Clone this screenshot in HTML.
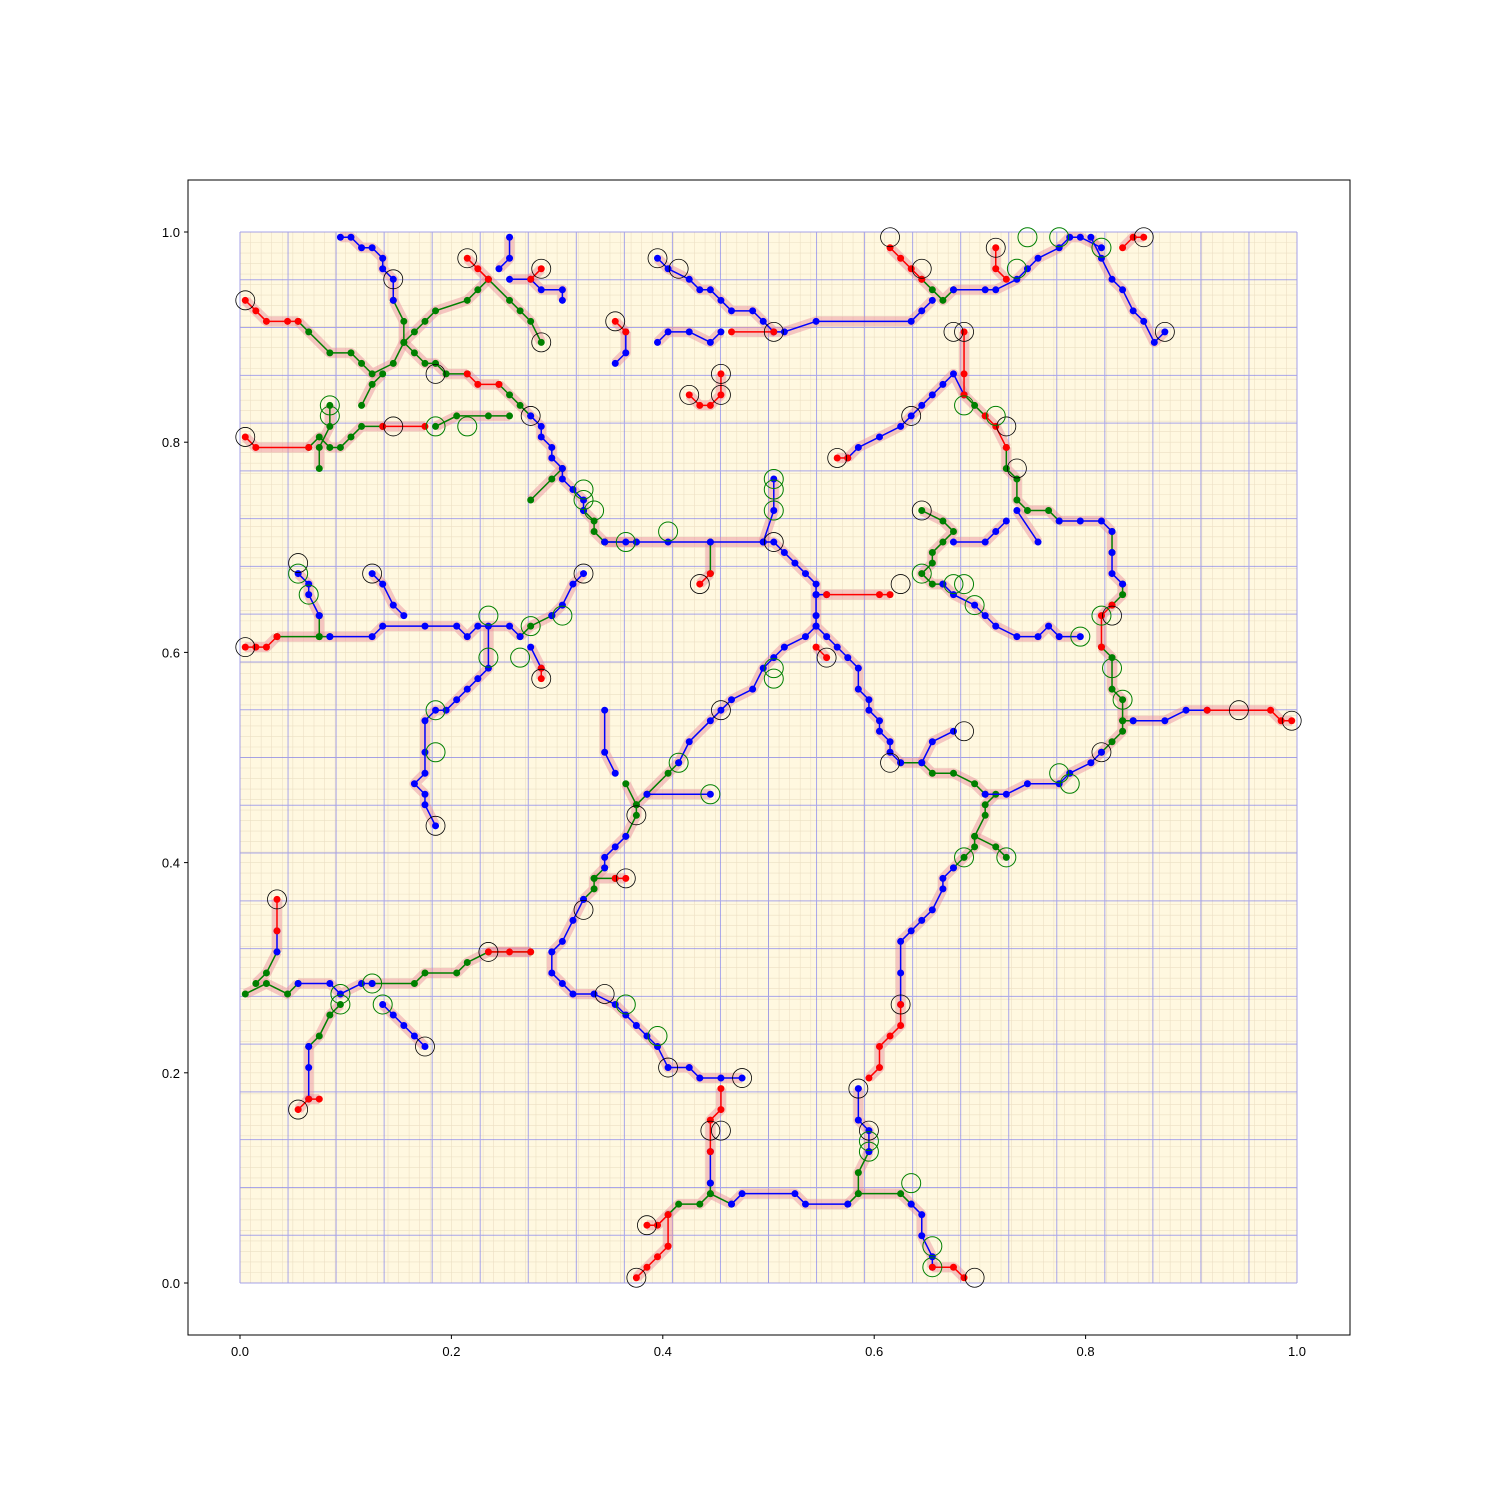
<!DOCTYPE html>
<html><head><meta charset="utf-8"><style>
body{margin:0;background:#fff;}
svg text{font-family:"Liberation Sans",sans-serif;font-size:13px;fill:#000;}
</style></head><body>
<svg id="chart" width="1500" height="1500" viewBox="0 0 1500 1500" xmlns="http://www.w3.org/2000/svg">
<rect x="0" y="0" width="1500" height="1500" fill="#fff"/>
<g id="plot"></g>
</svg>
<script>
const xTicks=[0,0.2,0.4,0.6,0.8,1.0];
const yTicks=[0,0.2,0.4,0.6,0.8,1.0];
const tickLabels=["0.0","0.2","0.4","0.6","0.8","1.0"];
const coarseDivisions=22;
const fineDivisions=100;
const redPaths=[
[[0.005,0.935],[0.015,0.925],[0.025,0.915],[0.045,0.915],[0.055,0.915]],
[[0.005,0.605],[0.015,0.605],[0.025,0.605],[0.035,0.615]],
[[0.005,0.805],[0.015,0.795],[0.065,0.795]],
[[0.915,0.545],[0.975,0.545],[0.985,0.535],[0.995,0.535]],
[[0.555,0.655],[0.605,0.655],[0.615,0.655]],
[[0.615,0.985],[0.625,0.975],[0.635,0.965],[0.645,0.955]],
[[0.835,0.985],[0.845,0.995],[0.855,0.995]],
[[0.385,0.055],[0.395,0.055],[0.405,0.065],[0.405,0.035]],
[[0.375,0.005],[0.385,0.015],[0.395,0.025],[0.405,0.035]],
[[0.655,0.015],[0.675,0.015],[0.685,0.005]],
[[0.455,0.185],[0.455,0.165],[0.445,0.155],[0.445,0.125]],
[[0.595,0.195],[0.605,0.205],[0.605,0.225],[0.615,0.235],[0.625,0.245],[0.625,0.265]],
[[0.685,0.905],[0.685,0.865],[0.685,0.845]],
[[0.725,0.795],[0.715,0.815],[0.705,0.825]],
[[0.215,0.865],[0.225,0.855],[0.245,0.855]],
[[0.135,0.815],[0.175,0.815]],
[[0.235,0.315],[0.255,0.315],[0.275,0.315]],
[[0.815,0.605],[0.815,0.635],[0.825,0.645]],
[[0.035,0.365],[0.035,0.335]],
[[0.055,0.165],[0.065,0.175],[0.075,0.175]],
[[0.465,0.905],[0.505,0.905]],
[[0.425,0.845],[0.435,0.835],[0.445,0.835],[0.455,0.845],[0.455,0.865]],
[[0.215,0.975],[0.225,0.965],[0.235,0.955]],
[[0.355,0.915],[0.365,0.905]],
[[0.715,0.985],[0.715,0.965],[0.725,0.955]],
[[0.435,0.665],[0.445,0.675]],
[[0.555,0.595],[0.545,0.605]],
[[0.365,0.385],[0.355,0.385]],
[[0.285,0.965],[0.275,0.955]],
[[0.285,0.575],[0.285,0.585]],
[[0.565,0.785],[0.575,0.785]]
];
const bluePaths=[
[[0.095,0.995],[0.105,0.995],[0.115,0.985],[0.125,0.985],[0.135,0.975],[0.135,0.965],[0.145,0.955],[0.145,0.935]],
[[0.275,0.825],[0.285,0.815],[0.285,0.805],[0.295,0.795],[0.295,0.785],[0.305,0.775],[0.305,0.765],[0.315,0.755],[0.325,0.745],[0.325,0.735]],
[[0.345,0.705],[0.365,0.705],[0.375,0.705],[0.405,0.705],[0.445,0.705],[0.495,0.705],[0.505,0.705],[0.515,0.695],[0.525,0.685],[0.535,0.675],[0.545,0.665],[0.545,0.655],[0.555,0.655]],
[[0.545,0.655],[0.545,0.635],[0.545,0.625],[0.555,0.615],[0.565,0.605],[0.575,0.595],[0.585,0.585],[0.585,0.565],[0.595,0.555],[0.595,0.545],[0.605,0.535],[0.605,0.525],[0.615,0.515],[0.615,0.505],[0.625,0.495]],
[[0.705,0.465],[0.725,0.465],[0.745,0.475],[0.775,0.475],[0.785,0.485],[0.805,0.495],[0.815,0.505]],
[[0.845,0.535],[0.875,0.535],[0.895,0.545],[0.915,0.545]],
[[0.835,0.665],[0.825,0.675],[0.825,0.695]],
[[0.685,0.845],[0.675,0.865],[0.665,0.855],[0.655,0.845],[0.645,0.835],[0.635,0.825],[0.625,0.815],[0.605,0.805],[0.585,0.795],[0.575,0.785]],
[[0.675,0.945],[0.705,0.945],[0.715,0.945],[0.735,0.955],[0.745,0.965],[0.755,0.975],[0.775,0.985],[0.785,0.995],[0.795,0.995],[0.815,0.985]],
[[0.805,0.995],[0.815,0.975],[0.825,0.955],[0.835,0.945],[0.845,0.925],[0.855,0.915],[0.865,0.895],[0.875,0.905]],
[[0.655,0.935],[0.645,0.925],[0.635,0.915],[0.545,0.915],[0.515,0.905],[0.505,0.905],[0.495,0.915],[0.485,0.925],[0.465,0.925],[0.455,0.935],[0.445,0.945],[0.435,0.945],[0.425,0.955],[0.405,0.965],[0.395,0.975]],
[[0.455,0.905],[0.445,0.895],[0.425,0.905],[0.405,0.905],[0.395,0.895]],
[[0.675,0.705],[0.705,0.705],[0.715,0.715],[0.725,0.725]],
[[0.735,0.735],[0.755,0.705]],
[[0.665,0.665],[0.675,0.655],[0.695,0.645],[0.705,0.635],[0.715,0.625],[0.735,0.615],[0.755,0.615],[0.765,0.625],[0.775,0.615],[0.795,0.615]],
[[0.545,0.625],[0.535,0.615],[0.515,0.605],[0.505,0.595],[0.495,0.585],[0.485,0.565],[0.465,0.555],[0.455,0.545],[0.445,0.535],[0.425,0.515],[0.415,0.495]],
[[0.365,0.425],[0.355,0.415],[0.345,0.405],[0.345,0.395]],
[[0.325,0.365],[0.315,0.345],[0.305,0.325],[0.295,0.315]],
[[0.295,0.315],[0.295,0.295],[0.305,0.285],[0.315,0.275],[0.335,0.275],[0.355,0.265],[0.365,0.255],[0.375,0.245],[0.385,0.235],[0.395,0.225],[0.405,0.205],[0.425,0.205],[0.435,0.195],[0.455,0.195],[0.475,0.195]],
[[0.445,0.125],[0.445,0.095]],
[[0.465,0.075],[0.475,0.085],[0.525,0.085],[0.535,0.075],[0.575,0.075]],
[[0.635,0.075],[0.645,0.065],[0.645,0.045],[0.655,0.025],[0.655,0.015]],
[[0.595,0.125],[0.595,0.145],[0.585,0.155],[0.585,0.185]],
[[0.625,0.265],[0.625,0.295],[0.625,0.325],[0.635,0.335],[0.645,0.345],[0.655,0.355],[0.665,0.375],[0.665,0.385],[0.675,0.395]],
[[0.085,0.615],[0.125,0.615],[0.135,0.625],[0.175,0.625],[0.205,0.625],[0.215,0.615],[0.225,0.625],[0.255,0.625],[0.265,0.615]],
[[0.295,0.635],[0.305,0.645],[0.315,0.665],[0.325,0.675]],
[[0.075,0.635],[0.065,0.655],[0.065,0.665],[0.055,0.675]],
[[0.125,0.675],[0.135,0.665],[0.145,0.645],[0.155,0.635]],
[[0.235,0.625],[0.235,0.585],[0.225,0.575],[0.215,0.565],[0.205,0.555],[0.195,0.545],[0.185,0.545],[0.175,0.535],[0.175,0.505],[0.175,0.485],[0.165,0.475],[0.175,0.465],[0.175,0.455],[0.185,0.435]],
[[0.275,0.605],[0.285,0.585]],
[[0.125,0.285],[0.115,0.285],[0.095,0.275],[0.085,0.285],[0.055,0.285]],
[[0.065,0.175],[0.065,0.205],[0.065,0.225]],
[[0.135,0.265],[0.145,0.255],[0.155,0.245],[0.165,0.235],[0.175,0.225]],
[[0.035,0.335],[0.035,0.315]],
[[0.355,0.485],[0.345,0.505],[0.345,0.545]],
[[0.385,0.465],[0.445,0.465]],
[[0.495,0.705],[0.505,0.735],[0.505,0.765]],
[[0.255,0.955],[0.275,0.955],[0.285,0.945],[0.305,0.945],[0.305,0.935]],
[[0.245,0.965],[0.255,0.975],[0.255,0.995]],
[[0.645,0.495],[0.655,0.515],[0.675,0.525]],
[[0.825,0.715],[0.815,0.725],[0.795,0.725],[0.775,0.725]],
[[0.365,0.905],[0.365,0.885],[0.355,0.875]]
];
const greenPaths=[
[[0.055,0.915],[0.065,0.905],[0.085,0.885],[0.105,0.885],[0.115,0.875],[0.125,0.865],[0.145,0.875],[0.155,0.895],[0.165,0.905],[0.175,0.915],[0.185,0.925],[0.215,0.935],[0.225,0.945],[0.235,0.955]],
[[0.145,0.935],[0.155,0.915],[0.155,0.895],[0.165,0.885],[0.175,0.875],[0.185,0.875],[0.195,0.865],[0.215,0.865]],
[[0.245,0.855],[0.255,0.845],[0.265,0.835],[0.275,0.825]],
[[0.065,0.795],[0.075,0.805],[0.085,0.795],[0.095,0.795],[0.105,0.805],[0.115,0.815],[0.135,0.815]],
[[0.185,0.815],[0.205,0.825],[0.235,0.825],[0.255,0.825]],
[[0.085,0.835],[0.085,0.815],[0.075,0.795],[0.075,0.775]],
[[0.115,0.835],[0.125,0.855],[0.135,0.865]],
[[0.235,0.955],[0.255,0.935],[0.265,0.925],[0.275,0.915],[0.285,0.895]],
[[0.325,0.735],[0.335,0.725],[0.335,0.715],[0.345,0.705]],
[[0.275,0.745],[0.295,0.765],[0.305,0.775]],
[[0.035,0.615],[0.075,0.615],[0.085,0.615]],
[[0.075,0.615],[0.075,0.635]],
[[0.265,0.615],[0.275,0.625],[0.295,0.635]],
[[0.625,0.495],[0.645,0.495],[0.655,0.485],[0.675,0.485],[0.695,0.475],[0.705,0.465]],
[[0.815,0.505],[0.825,0.515],[0.835,0.525],[0.835,0.535],[0.845,0.535]],
[[0.835,0.535],[0.835,0.555],[0.825,0.565],[0.825,0.595],[0.815,0.605]],
[[0.825,0.645],[0.835,0.655],[0.835,0.665]],
[[0.825,0.695],[0.825,0.715]],
[[0.775,0.725],[0.765,0.735],[0.745,0.735],[0.735,0.745],[0.735,0.765],[0.725,0.775],[0.725,0.795]],
[[0.705,0.825],[0.695,0.835],[0.685,0.845]],
[[0.645,0.955],[0.655,0.945],[0.665,0.935],[0.675,0.945]],
[[0.645,0.735],[0.665,0.725],[0.675,0.715],[0.665,0.705],[0.655,0.695],[0.655,0.685],[0.645,0.675],[0.655,0.665],[0.665,0.665]],
[[0.415,0.495],[0.405,0.485],[0.385,0.465],[0.375,0.455],[0.375,0.445],[0.365,0.425]],
[[0.345,0.395],[0.335,0.385],[0.335,0.375],[0.325,0.365]],
[[0.335,0.385],[0.355,0.385]],
[[0.365,0.475],[0.375,0.455]],
[[0.275,0.315],[0.235,0.315],[0.215,0.305],[0.205,0.295],[0.175,0.295],[0.165,0.285],[0.125,0.285]],
[[0.055,0.285],[0.045,0.275],[0.025,0.285],[0.005,0.275]],
[[0.035,0.315],[0.025,0.295],[0.015,0.285]],
[[0.065,0.225],[0.075,0.235],[0.085,0.255],[0.095,0.265]],
[[0.445,0.095],[0.445,0.085],[0.435,0.075],[0.415,0.075],[0.405,0.065]],
[[0.445,0.085],[0.465,0.075]],
[[0.575,0.075],[0.585,0.085],[0.625,0.085],[0.635,0.075]],
[[0.585,0.085],[0.585,0.105],[0.595,0.125]],
[[0.675,0.395],[0.685,0.405],[0.695,0.415],[0.695,0.425],[0.705,0.445],[0.705,0.455],[0.715,0.465]],
[[0.695,0.425],[0.715,0.415],[0.725,0.405]],
[[0.345,0.705],[0.375,0.705]],
[[0.445,0.705],[0.445,0.675]]
];
const blackCircles=[[0.005,0.935],[0.005,0.805],[0.005,0.605],[0.145,0.955],[0.215,0.975],[0.285,0.965],[0.285,0.895],[0.185,0.865],[0.145,0.815],[0.275,0.825],[0.055,0.685],[0.125,0.675],[0.325,0.675],[0.285,0.575],[0.185,0.435],[0.395,0.975],[0.415,0.965],[0.355,0.915],[0.425,0.845],[0.455,0.845],[0.455,0.865],[0.505,0.905],[0.435,0.665],[0.505,0.705],[0.615,0.995],[0.645,0.965],[0.715,0.985],[0.855,0.995],[0.875,0.905],[0.675,0.905],[0.685,0.905],[0.635,0.825],[0.725,0.815],[0.735,0.775],[0.565,0.785],[0.645,0.735],[0.625,0.665],[0.555,0.595],[0.825,0.635],[0.995,0.535],[0.945,0.545],[0.815,0.505],[0.685,0.525],[0.615,0.495],[0.455,0.545],[0.375,0.445],[0.365,0.385],[0.325,0.355],[0.235,0.315],[0.035,0.365],[0.175,0.225],[0.055,0.165],[0.345,0.275],[0.405,0.205],[0.475,0.195],[0.445,0.145],[0.455,0.145],[0.385,0.055],[0.375,0.005],[0.695,0.005],[0.585,0.185],[0.625,0.265],[0.595,0.145]];
const greenCircles=[[0.085,0.835],[0.085,0.825],[0.185,0.815],[0.215,0.815],[0.325,0.755],[0.325,0.745],[0.335,0.735],[0.365,0.705],[0.405,0.715],[0.505,0.765],[0.505,0.755],[0.505,0.735],[0.235,0.635],[0.275,0.625],[0.305,0.635],[0.235,0.595],[0.265,0.595],[0.185,0.545],[0.185,0.505],[0.055,0.675],[0.065,0.655],[0.505,0.585],[0.505,0.575],[0.415,0.495],[0.445,0.465],[0.645,0.675],[0.675,0.665],[0.685,0.665],[0.695,0.645],[0.685,0.835],[0.715,0.825],[0.735,0.965],[0.745,0.995],[0.775,0.995],[0.815,0.985],[0.795,0.615],[0.815,0.635],[0.825,0.585],[0.835,0.555],[0.775,0.485],[0.785,0.475],[0.685,0.405],[0.725,0.405],[0.365,0.265],[0.395,0.235],[0.095,0.265],[0.095,0.275],[0.125,0.285],[0.135,0.265],[0.635,0.095],[0.655,0.035],[0.655,0.015],[0.595,0.135],[0.595,0.125]];

const NS='http://www.w3.org/2000/svg';
const plot=document.getElementById('plot');
const X0=240,X1=1297,Y0=1283,Y1=232;
function sx(v){return X0+v*(X1-X0);}
function sy(v){return Y0-v*(Y0-Y1);}
function mk(tag,attrs,parent){const e=document.createElementNS(NS,tag);for(const k in attrs)e.setAttribute(k,attrs[k]);(parent||plot).appendChild(e);return e;}

const frame=mk('rect',{x:188,y:180,width:1162,height:1155,fill:'none',stroke:'#000','stroke-width':1});


const bg=mk('rect',{x:X0,y:Y1,width:X1-X0,height:Y0-Y1,fill:'#fff8e0'});


let fg='';
for(let i=0;i<=fineDivisions;i++){const t=i/fineDivisions;fg+=`M${sx(t)} ${Y1}V${Y0}M${X0} ${sy(t)}H${X1}`;}
const fgp=mk('path',{d:fg,stroke:'#ecdfc4','stroke-width':0.6,fill:'none'});


let cg='';
for(let i=0;i<=coarseDivisions;i++){const t=i/coarseDivisions;cg+=`M${sx(t)} ${Y1}V${Y0}M${X0} ${sy(t)}H${X1}`;}
const cgp=mk('path',{d:cg,stroke:'#7070f0','stroke-width':1,fill:'none','stroke-opacity':0.6});


const all=[...redPaths,...bluePaths,...greenPaths];
all.forEach(p=>{const h=mk('polyline',{points:p.map(q=>sx(q[0])+','+sy(q[1])).join(' '),fill:'none',stroke:'#e88a9a','stroke-width':10,'stroke-opacity':0.45,'stroke-linejoin':'round'});

});
function drawSet(set,color,name){set.forEach(p=>{
 const l=mk('polyline',{points:p.map(q=>sx(q[0])+','+sy(q[1])).join(' '),fill:'none',stroke:color,'stroke-width':1.5});
 
 
 p.forEach(q=>{const c=mk('circle',{cx:sx(q[0]),cy:sy(q[1]),r:3.5,fill:color});
 
 });
});}
drawSet(greenPaths,'#008000','green');
drawSet(bluePaths,'#0000ff','blue');
drawSet(redPaths,'#ff0000','red');
blackCircles.forEach(q=>{const c=mk('circle',{cx:sx(q[0]),cy:sy(q[1]),r:9.5,fill:'none',stroke:'#000','stroke-width':0.8});

});
greenCircles.forEach(q=>{const c=mk('circle',{cx:sx(q[0]),cy:sy(q[1]),r:9.5,fill:'none',stroke:'#008000','stroke-width':1});

});
xTicks.forEach((t,i)=>{mk('line',{x1:sx(t),x2:sx(t),y1:1335,y2:1339,stroke:'#000'});
 const tx=mk('text',{x:sx(t),y:1356,'text-anchor':'middle'});tx.textContent=tickLabels[i];
 
 });
yTicks.forEach((t,i)=>{mk('line',{x1:184,x2:188,y1:sy(t),y2:sy(t),stroke:'#000'});
 const tx=mk('text',{x:180,y:sy(t)+5,'text-anchor':'end'});tx.textContent=tickLabels[i];
 
 });
</script>
</body></html>
